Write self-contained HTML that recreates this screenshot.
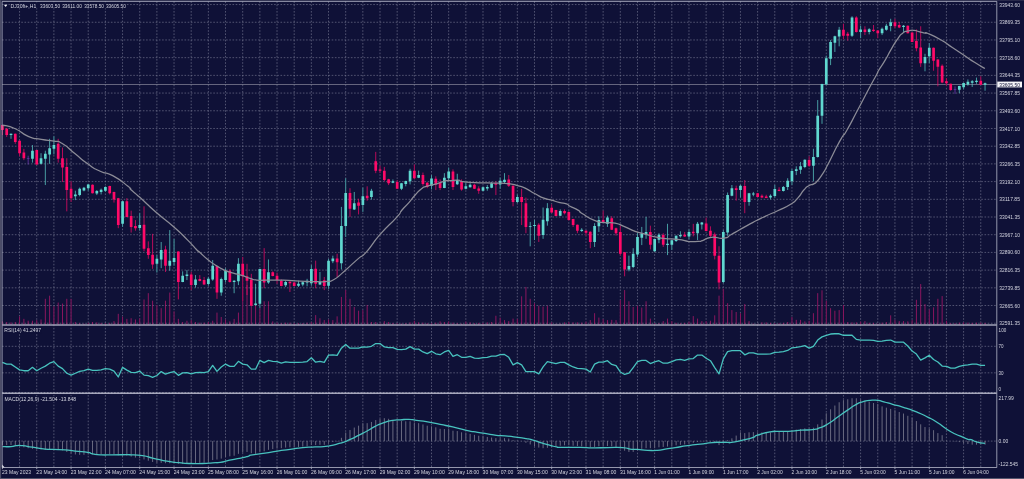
<!DOCTYPE html>
<html><head><meta charset="utf-8"><title>DJ30ft+ H1</title>
<style>html,body{margin:0;padding:0;background:#0f1137;overflow:hidden}svg{display:block}</style></head>
<body>
<svg width="1024" height="479" viewBox="0 0 1024 479" font-family="'Liberation Sans', sans-serif">
<rect width="1024" height="479" fill="#0f1137"/>
<rect x="0" y="0" width="1.1" height="479" fill="#4c4d68"/>
<rect x="0" y="0" width="1024" height="0.6" fill="#3a3b58"/>
<rect x="0" y="478" width="1024" height="1" fill="#55566e"/>
<path d="M19.56 1.4V467.5M36.73 1.4V467.5M53.89 1.4V467.5M71.06 1.4V467.5M88.22 1.4V467.5M105.38 1.4V467.5M122.55 1.4V467.5M139.71 1.4V467.5M156.88 1.4V467.5M174.04 1.4V467.5M191.2 1.4V467.5M208.37 1.4V467.5M225.53 1.4V467.5M242.7 1.4V467.5M259.86 1.4V467.5M277.02 1.4V467.5M294.19 1.4V467.5M311.35 1.4V467.5M328.52 1.4V467.5M345.68 1.4V467.5M362.84 1.4V467.5M380.01 1.4V467.5M397.17 1.4V467.5M414.34 1.4V467.5M431.5 1.4V467.5M448.66 1.4V467.5M465.83 1.4V467.5M482.99 1.4V467.5M500.16 1.4V467.5M517.32 1.4V467.5M534.48 1.4V467.5M551.65 1.4V467.5M568.81 1.4V467.5M585.98 1.4V467.5M603.14 1.4V467.5M620.3 1.4V467.5M637.47 1.4V467.5M654.63 1.4V467.5M671.8 1.4V467.5M688.96 1.4V467.5M706.12 1.4V467.5M723.29 1.4V467.5M740.45 1.4V467.5M757.62 1.4V467.5M774.78 1.4V467.5M791.94 1.4V467.5M809.11 1.4V467.5M826.27 1.4V467.5M843.44 1.4V467.5M860.6 1.4V467.5M877.76 1.4V467.5M894.93 1.4V467.5M912.09 1.4V467.5M929.26 1.4V467.5M946.42 1.4V467.5M963.58 1.4V467.5M980.75 1.4V467.5" stroke="#7f819a" stroke-width="0.6" stroke-dasharray="1.6 1.6" fill="none"/>
<path d="M2.1 4.55H996.8M2.1 22.25H996.8M2.1 39.96H996.8M2.1 57.66H996.8M2.1 75.37H996.8M2.1 93.07H996.8M2.1 110.78H996.8M2.1 128.48H996.8M2.1 146.19H996.8M2.1 163.89H996.8M2.1 181.6H996.8M2.1 199.31H996.8M2.1 217.01H996.8M2.1 234.71H996.8M2.1 252.42H996.8M2.1 270.12H996.8M2.1 287.83H996.8M2.1 305.53H996.8M2.1 323.24H996.8M2.1 346.3H996.8M2.1 372.85H996.8M2.1 441.1H996.8" stroke="#7f819a" stroke-width="0.6" stroke-dasharray="1.6 1.6" fill="none"/>
<path d="M2.42 321.35V325.0M19.58 316.34V325.0M36.75 320.1V325.0M53.91 306.32V325.0M71.08 298.81V325.0M88.24 322.86V325.0M105.4 323.23V325.0M122.57 316.59V325.0M139.73 318.22V325.0M156.9 305.07V325.0M174.06 311.33V325.0M191.22 320.1V325.0M208.39 321.98V325.0M225.55 319.47V325.0M242.72 288.79V325.0M259.88 307.58V325.0M277.04 322.61V325.0M294.21 323.23V325.0M311.37 321.98V325.0M328.54 319.47V325.0M345.7 290.04V325.0M362.86 310.08V325.0M380.03 323.23V325.0M397.19 323.23V325.0M414.36 320.73V325.0M431.52 323.23V325.0M448.68 321.35V325.0M465.85 321.6V325.0M483.01 322.86V325.0M500.18 317.6V325.0M517.34 318.85V325.0M534.5 303.19V325.0M551.67 322.35V325.0M568.83 321.98V325.0M586 321.6V325.0M603.16 319.1V325.0M620.32 300.06V325.0M637.49 305.7V325.0M654.65 323.23V325.0M671.82 321.1V325.0M688.98 321.6V325.0M706.14 321.1V325.0M723.31 288.79V325.0M740.47 313.21V325.0M757.64 323.86V325.0M774.8 323.23V325.0M791.96 316.97V325.0M809.13 320.73V325.0M826.29 300.69V325.0M843.46 305.07V325.0M860.62 321.6V325.0M877.78 323.61V325.0M894.95 319.85V325.0M912.11 320.1V325.0M929.28 309.45V325.0M946.44 320.73V325.0M963.6 322.35V325.0M980.77 322.61V325.0" stroke="#0f1137" stroke-width="1.3" fill="none"/>
<path d="M2.42 321.35V325.0M6.71 321.98V325.0M11 322.35V325.0M15.29 321.98V325.0M19.58 316.34V325.0M23.88 318.85V325.0M28.17 320.73V325.0M32.46 320.73V325.0M36.75 320.1V325.0M41.04 319.47V325.0M45.33 298.81V325.0M49.62 295.68V325.0M53.91 306.32V325.0M58.2 302.57V325.0M62.49 303.57V325.0M66.79 298.81V325.0M71.08 298.81V325.0M75.37 321.98V325.0M79.66 323.23V325.0M83.95 323.61V325.0M88.24 322.86V325.0M92.53 321.98V325.0M96.82 322.35V325.0M101.11 322.86V325.0M105.4 323.23V325.0M109.7 322.86V325.0M113.99 321.1V325.0M118.28 313.84V325.0M122.57 316.59V325.0M126.86 318.85V325.0M131.15 318.22V325.0M135.44 319.47V325.0M139.73 318.22V325.0M144.02 299.43V325.0M148.31 293.17V325.0M152.6 300.69V325.0M156.9 305.07V325.0M161.19 308.2V325.0M165.48 300.69V325.0M169.77 292.55V325.0M174.06 311.33V325.0M178.35 318.85V325.0M182.64 321.98V325.0M186.93 320.73V325.0M191.22 320.1V325.0M195.52 321.98V325.0M199.81 322.61V325.0M204.1 322.61V325.0M208.39 321.98V325.0M212.68 320.73V325.0M216.97 312.59V325.0M221.26 316.97V325.0M225.55 319.47V325.0M229.84 321.35V325.0M234.13 318.85V325.0M238.43 312.59V325.0M242.72 288.79V325.0M247.01 285.03V325.0M251.3 295.05V325.0M255.59 303.82V325.0M259.88 307.58V325.0M264.17 301.31V325.0M268.46 301.31V325.0M272.75 321.35V325.0M277.04 322.61V325.0M281.34 323.23V325.0M285.63 322.61V325.0M289.92 322.61V325.0M294.21 323.23V325.0M298.5 323.23V325.0M302.79 323.23V325.0M307.08 322.61V325.0M311.37 321.98V325.0M315.66 315.09V325.0M319.95 318.22V325.0M324.25 320.1V325.0M328.54 319.47V325.0M332.83 320.1V325.0M337.12 316.34V325.0M341.41 296.93V325.0M345.7 290.04V325.0M349.99 298.81V325.0M354.28 306.95V325.0M358.57 310.71V325.0M362.86 310.08V325.0M367.16 305.07V325.0M371.45 321.98V325.0M375.74 321.98V325.0M380.03 323.23V325.0M384.32 321.1V325.0M388.61 321.98V325.0M392.9 322.86V325.0M397.19 323.23V325.0M401.48 323.61V325.0M405.77 323.23V325.0M410.07 322.35V325.0M414.36 320.73V325.0M418.65 322.35V325.0M422.94 322.61V325.0M427.23 323.23V325.0M431.52 323.23V325.0M435.81 322.61V325.0M440.1 321.35V325.0M444.39 321.98V325.0M448.68 321.35V325.0M452.98 322.61V325.0M457.27 323.23V325.0M461.56 323.61V325.0M465.85 321.6V325.0M470.14 322.35V325.0M474.43 323.23V325.0M478.72 322.86V325.0M483.01 322.86V325.0M487.3 322.35V325.0M491.59 321.98V325.0M495.89 315.72V325.0M500.18 317.6V325.0M504.47 320.1V325.0M508.76 321.1V325.0M513.05 318.6V325.0M517.34 318.85V325.0M521.63 296.3V325.0M525.92 286.91V325.0M530.21 298.81V325.0M534.5 303.19V325.0M538.79 305.7V325.0M543.09 306.57V325.0M547.38 305.7V325.0M551.67 322.35V325.0M555.96 323.86V325.0M560.25 323.61V325.0M564.54 322.35V325.0M568.83 321.98V325.0M573.12 322.35V325.0M577.41 322.35V325.0M581.71 322.61V325.0M586 321.6V325.0M590.29 320.1V325.0M594.58 313.21V325.0M598.87 317.6V325.0M603.16 319.1V325.0M607.45 320.1V325.0M611.74 319.85V325.0M616.03 320.1V325.0M620.32 300.06V325.0M624.62 290.04V325.0M628.91 301.31V325.0M633.2 306.95V325.0M637.49 305.7V325.0M641.78 307.58V325.0M646.07 301.31V325.0M650.36 318.6V325.0M654.65 323.23V325.0M658.94 323.23V325.0M663.23 321.1V325.0M667.52 318.6V325.0M671.82 321.1V325.0M676.11 322.86V325.0M680.4 323.23V325.0M684.69 322.86V325.0M688.98 321.6V325.0M693.27 316.09V325.0M697.56 318.6V325.0M701.85 321.1V325.0M706.14 321.1V325.0M710.44 320.73V325.0M714.73 315.34V325.0M719.02 295.68V325.0M723.31 288.79V325.0M727.6 303.19V325.0M731.89 310.08V325.0M736.18 311.96V325.0M740.47 313.21V325.0M744.76 304.07V325.0M749.05 321.1V325.0M753.35 323.61V325.0M757.64 323.86V325.0M761.93 322.35V325.0M766.22 322.35V325.0M770.51 322.86V325.0M774.8 323.23V325.0M779.09 323.23V325.0M783.38 322.86V325.0M787.67 321.98V325.0M791.96 316.97V325.0M796.25 319.85V325.0M800.55 319.85V325.0M804.84 321.35V325.0M809.13 320.73V325.0M813.42 313.21V325.0M817.71 293.17V325.0M822 290.29V325.0M826.29 300.69V325.0M830.58 308.2V325.0M834.87 310.71V325.0M839.17 310.08V325.0M843.46 305.07V325.0M847.75 321.98V325.0M852.04 322.35V325.0M856.33 322.35V325.0M860.62 321.6V325.0M864.91 321.1V325.0M869.2 322.86V325.0M873.49 322.86V325.0M877.78 323.61V325.0M882.08 322.61V325.0M886.37 321.98V325.0M890.66 315.34V325.0M894.95 319.85V325.0M899.24 321.1V325.0M903.53 321.1V325.0M907.82 321.35V325.0M912.11 320.1V325.0M916.4 299.81V325.0M920.69 284.03V325.0M924.99 304.07V325.0M929.28 309.45V325.0M933.57 307.32V325.0M937.86 298.81V325.0M942.15 296.05V325.0M946.44 320.73V325.0M950.73 323.23V325.0M955.02 323.23V325.0M959.31 322.61V325.0M963.6 322.35V325.0M967.9 322.61V325.0M972.19 322.86V325.0M976.48 322.61V325.0M980.77 322.61V325.0M985.06 322.86V325.0" stroke="#c01970" stroke-width="0.7" fill="none"/>
<path d="M2.1 84.5H996.8" stroke="#a0a0ae" stroke-width="0.6" fill="none"/>
<path d="M2.42 124.78V135.05M19.58 140.06V156.34M36.75 149.83V164.73M53.91 136.3V154.46M71.08 181.29V201.96M88.24 183.8V190.69M105.4 186.3V191.94M122.57 201.02V226.95M139.73 213.17V230.71M156.9 255.03V272.57M174.06 238.85V265.68M191.22 271.94V290.1M208.39 276.95V285.72M225.55 268.18V282.59M242.72 256.91V301.31M259.88 268.81V308.2M277.04 272.57V283.84M294.21 281.96V286.34M311.37 265.05V285.72M328.54 258.79V288.85M345.7 178.18V236.96M362.86 187.58V211.91M380.03 165.66V173.17M397.19 180.06V189.08M414.36 164.4V179.43M431.52 175.05V189.45M448.68 167.54V180.69M465.85 182.55V189.43M483.01 186.3V191.31M500.18 177.54V188.81M517.34 194.44V203.21M534.5 220.04V240.08M551.67 204.38V213.15M568.83 211.27V220.67M586 230.05V235.69M603.16 210.64V222.54M620.32 225.67V255.73M637.49 233.18V256.98M654.65 238.82V251.97M671.82 240.07V250.09M688.98 229.42V239.44M706.14 217.58V231.35M723.31 230V283.23M740.47 184.76V197.54M757.64 192.9V197.16M774.8 185.01V197.54M791.96 168.83V185.11M809.13 156.3V166.95M826.29 55.72V84.64M843.46 23.78V39.43M860.62 25.66V38.18M877.78 30.04V38.18M894.95 18.77V28.16M912.11 32.29V42.19M929.28 43.13V63.17M946.44 78.2V85.72M963.6 82.59V89.47M980.77 76.32V85.09" stroke="#0f1137" stroke-width="1.3" fill="none"/>
<path d="M11 133.55V138.81M32.46 145.07V162.61M41.04 153.21V164.48M45.33 150.71V185.05M49.62 138.81V163.86M53.91 136.3V154.46M75.37 190.69V200.08M79.66 187.56V196.32M83.95 186.93V191.31M88.24 183.8V190.69M96.82 190.06V195.07M101.11 188.56V194.44M105.4 186.3V191.94M122.57 201.02V226.95M139.73 213.17V230.71M156.9 255.03V272.57M161.19 241.98V268.18M169.77 230.08V270.69M174.06 238.85V265.68M182.64 271.31V282.21M186.93 270.06V280.08M195.52 275.07V287.6M208.39 276.95V285.72M212.68 260.04V280.71M221.26 277.58V295.74M225.55 268.18V282.59M234.13 280.08V293.23M238.43 258.16V285.09M255.59 283.78V305.7M259.88 268.81V308.2M268.46 259.41V283.84M285.63 280.71V286.97M298.5 280.71V286.97M302.79 281.33V286.34M307.08 278.83V286.34M311.37 265.05V285.72M319.95 271.94V285.09M328.54 258.79V288.85M332.83 255.66V263.17M341.41 206.9V269.43M345.7 178.18V236.96M354.28 191.96V210.03M362.86 187.58V211.91M371.45 188.83V199.47M392.9 179.43V183.19M401.48 182.94V190.08M405.77 180.69V186.32M410.07 168.79V184.44M418.65 170.67V178.18M431.52 175.05V189.45M444.39 173.17V188.2M448.68 167.54V180.69M457.27 173.78V185.05M465.85 182.55V189.43M470.14 183.17V187.56M483.01 186.3V191.31M487.3 185.05V190.69M491.59 181.92V188.18M500.18 177.54V188.81M504.47 173.15V183.17M517.34 194.44V203.21M530.21 221.92V246.34M534.5 220.04V240.08M543.09 207.52V238.83M547.38 203.13V225.68M560.25 209.39V216.03M581.71 228.17V231.93M594.58 223.16V246.96M598.87 216.27V231.93M607.45 215.65V226.92M628.91 255.64V271.29M633.2 248.21V268.16M637.49 233.18V256.98M641.78 226.92V245.08M646.07 216.9V238.82M654.65 238.82V251.97M658.94 233.18V243.2M667.52 223.79V255.1M671.82 240.07V250.09M676.11 235.44V241.95M680.4 231.3V237.57M688.98 229.42V239.44M697.56 221.96V239.99M701.85 221.96V229.47M723.31 230V283.23M727.6 192.53V235.74M731.89 185.01V196.28M740.47 184.76V197.54M749.05 192.9V205.68M753.35 191.9V196.28M770.51 194.4V199.41M774.8 185.01V197.54M783.38 186.01V191.52M787.67 178.22V189.99M791.96 168.83V185.11M796.25 166.32V175.09M800.55 161.94V173.84M804.84 159.43V168.2M813.42 148.79V181.35M817.71 100.05V157.56M822 83.77V123.85M826.29 55.72V84.64M830.58 40.06V65.11M834.87 35.68V51.96M839.17 26.91V46.32M852.04 16.26V36.93M860.62 25.66V38.18M869.2 28.16V34.42M882.08 27.54V35.05M886.37 23.78V30.67M890.66 18.77V31.29M903.53 25.03V31.92M924.99 53.78V71.31M929.28 43.13V63.17M959.31 85.72V93.23M963.6 82.59V89.47M967.9 79.45V85.72M972.19 80.08V86.97M976.48 77.58V83.84M985.06 82.59V90.73" stroke="#60d8d0" stroke-width="0.7" fill="none"/>
<path d="M2.42 124.78V135.05M6.71 128.16V136.93M15.29 133.55V143.82M19.58 140.06V156.34M23.88 148.83V160.1M36.75 149.83V164.73M58.2 138.81V162.61M62.49 147.58V181.92M66.79 158.22V211.35M71.08 181.29V201.96M92.53 184.42V193.44M109.7 185.68V194.44M113.99 191.69V202.59M118.28 197.89V228.2M126.86 198.14V217.18M131.15 210.67V232.59M135.44 220.06V230.71M144.02 206.28V251.27M148.31 241.35V258.79M152.6 233.84V268.81M165.48 245.74V271.94M178.35 251.27V299.43M191.22 271.94V290.1M199.81 275.07V281.33M204.1 276.95V284.71M216.97 266.05V298.87M229.84 269.43V282.59M242.72 256.91V301.31M247.01 263.8V295.05M251.3 273.82V305.95M264.17 248.14V288.22M272.75 271.31V276.32M277.04 272.57V283.84M281.34 279.45V286.34M289.92 281.33V291.98M294.21 281.96V286.34M315.66 260.67V288.22M324.25 276.95V290.1M337.12 253.78V276.95M349.99 188.2V216.92M358.57 198.76V214.41M367.16 186.32V200.73M375.74 151.88V173.17M380.03 165.66V173.17M384.32 166.91V181.31M388.61 178.81V185.07M397.19 180.06V189.08M414.36 164.4V179.43M422.94 172.55V185.7M427.23 181.94V188.2M435.81 176.3V190.08M440.1 179.43V190.08M452.98 169.39V190.06M461.56 179.41V190.69M474.43 183.8V189.06M478.72 186.3V193.82M495.89 181.29V195.07M508.76 175.03V186.93M513.05 185.43V206.34M521.63 188.81V225.05M525.92 197.58V233.19M538.79 223.17V241.96M551.67 204.38V213.15M555.96 209.77V216.28M564.54 209.39V214.4M568.83 211.27V220.67M573.12 218.79V226.93M577.41 224.55V233.19M586 230.05V235.69M590.29 231.3V248.21M603.16 210.64V222.54M611.74 216.27V230.05M616.03 227.55V235.69M620.32 225.67V255.73M624.62 252.09V276.3M650.36 225.67V249.46M663.23 233.18V246.96M684.69 231.93V236.94M693.27 223.84V236.36M706.14 217.58V231.35M710.44 226.34V236.99M714.73 232.51V259.43M719.02 246.28V289.41M736.18 185.64V200.67M744.76 180V213.19M757.64 192.9V197.16M761.93 194.4V198.16M766.22 194.78V198.16M779.09 187.26V191.27M809.13 156.3V166.95M843.46 23.78V39.43M847.75 31.92V40.69M856.33 16.26V32.55M864.91 26.28V35.05M873.49 25.03V31.92M877.78 30.04V38.18M894.95 18.77V28.16M899.24 21.9V28.16M907.82 25.41V33.42M912.11 32.29V42.19M916.4 29.41V51.27M920.69 26.28V66.93M933.57 47.52V70.69M937.86 59.16V86.34M942.15 64.42V83.21M946.44 78.2V85.72M950.73 83.59V90.73M980.77 76.32V85.09" stroke="#ff0a68" stroke-width="0.7" fill="none"/>
<path d="M28.17 155.72V164.48M955.02 86.34V93.86" stroke="#7a3fc0" stroke-width="0.7" fill="none"/>
<path d="M9.65 133.8h2.7V135.05h-2.7zM31.11 150.71h2.7V158.85h-2.7zM39.69 158.22h2.7V163.86h-2.7zM43.98 153.84h2.7V158.85h-2.7zM48.27 148.2h2.7V154.46h-2.7zM52.56 145.07h2.7V148.83h-2.7zM74.02 194.44h2.7V196.32h-2.7zM78.31 188.81h2.7V195.07h-2.7zM82.6 187.81h2.7V190.44h-2.7zM86.89 184.42h2.7V188.18h-2.7zM95.47 191.06h2.7V193.57h-2.7zM99.76 189.68h2.7V191.94h-2.7zM104.05 186.93h2.7V190.69h-2.7zM121.22 201.27h2.7V223.82h-2.7zM138.38 225.07h2.7V227.95h-2.7zM155.55 258.79h2.7V263.8h-2.7zM159.84 250.02h2.7V259.41h-2.7zM168.42 260.67h2.7V265.68h-2.7zM172.71 257.91h2.7V261.92h-2.7zM181.29 275.7h2.7V281.96h-2.7zM185.58 274.44h2.7V275.95h-2.7zM194.17 279.45h2.7V285.09h-2.7zM207.04 278.83h2.7V284.09h-2.7zM211.33 265.68h2.7V279.45h-2.7zM219.91 279.08h2.7V292.61h-2.7zM224.2 270.69h2.7V280.08h-2.7zM232.78 280.71h2.7V281.96h-2.7zM237.08 263.8h2.7V281.33h-2.7zM254.24 303.57h2.7V305.07h-2.7zM258.53 269.06h2.7V303.82h-2.7zM267.11 272.31h2.7V282.59h-2.7zM284.28 281.96h2.7V285.34h-2.7zM297.15 283.84h2.7V285.72h-2.7zM301.44 282.33h2.7V284.46h-2.7zM305.73 280.71h2.7V282.59h-2.7zM310.02 269.06h2.7V283.21h-2.7zM318.6 281.96h2.7V284.46h-2.7zM327.19 260.67h2.7V285.72h-2.7zM331.48 258.54h2.7V261.29h-2.7zM340.06 226.06h2.7V263.17h-2.7zM344.35 192.96h2.7V226.06h-2.7zM352.93 203.14h2.7V209.4h-2.7zM361.51 196.25h2.7V205.02h-2.7zM370.1 190.71h2.7V196.97h-2.7zM391.55 181.31h2.7V182.82h-2.7zM400.13 183.19h2.7V188.83h-2.7zM404.42 181.06h2.7V184.07h-2.7zM408.72 170.67h2.7V181.31h-2.7zM417.3 175.05h2.7V177.81h-2.7zM430.17 178.56h2.7V185.7h-2.7zM443.04 177.81h2.7V187.95h-2.7zM447.33 171.54h2.7V178.18h-2.7zM455.92 180.04h2.7V184.17h-2.7zM464.5 186.3h2.7V188.81h-2.7zM468.79 184.8h2.7V187.3h-2.7zM481.66 187.3h2.7V190.69h-2.7zM485.95 186.93h2.7V188.56h-2.7zM490.24 183.17h2.7V187.81h-2.7zM498.83 180.67h2.7V184.42h-2.7zM503.12 179.79h2.7V181.92h-2.7zM515.99 196.95h2.7V201.96h-2.7zM528.86 225.93h2.7V226.68h-2.7zM533.15 225.05h2.7V225.93h-2.7zM541.74 219.79h2.7V235.07h-2.7zM546.03 208.14h2.7V221.29h-2.7zM558.9 211.02h2.7V215.66h-2.7zM580.36 229.67h2.7V230.93h-2.7zM593.23 226.04h2.7V241.95h-2.7zM597.52 220.03h2.7V226.29h-2.7zM606.1 217.53h2.7V223.79h-2.7zM627.56 266.03h2.7V269.41h-2.7zM631.85 253.76h2.7V266.91h-2.7zM636.14 236.94h2.7V254.47h-2.7zM640.43 233.18h2.7V237.82h-2.7zM644.72 231.93h2.7V234.43h-2.7zM653.3 239.07h2.7V251.34h-2.7zM657.59 234.68h2.7V239.82h-2.7zM666.17 243.83h2.7V245.08h-2.7zM670.47 240.32h2.7V244.83h-2.7zM674.76 235.69h2.7V240.95h-2.7zM679.05 235.06h2.7V236.31h-2.7zM687.63 231.93h2.7V236.56h-2.7zM696.21 223.84h2.7V233.23h-2.7zM700.5 222.59h2.7V224.46h-2.7zM721.96 231.88h2.7V281.98h-2.7zM726.25 195.03h2.7V232.61h-2.7zM730.54 188.14h2.7V195.66h-2.7zM739.12 185.64h2.7V190.02h-2.7zM747.7 193.15h2.7V201.92h-2.7zM752 193.53h2.7V194.53h-2.7zM769.16 195.66h2.7V197.54h-2.7zM773.45 189.02h2.7V196.03h-2.7zM782.03 186.89h2.7V191.02h-2.7zM786.32 180.73h2.7V186.99h-2.7zM790.61 171.08h2.7V181.35h-2.7zM794.9 169.2h2.7V170.96h-2.7zM799.2 166.32h2.7V169.7h-2.7zM803.49 159.81h2.7V166.95h-2.7zM812.07 156.93h2.7V165.7h-2.7zM816.36 115.71h2.7V156.93h-2.7zM820.65 84.02h2.7V115.71h-2.7zM824.94 58.22h2.7V84.39h-2.7zM829.23 41.94h2.7V58.85h-2.7zM833.52 36.3h2.7V42.82h-2.7zM837.82 29.79h2.7V36.55h-2.7zM850.69 17.52h2.7V35.68h-2.7zM859.27 29.41h2.7V31.92h-2.7zM867.85 29.16h2.7V31.92h-2.7zM880.73 28.79h2.7V33.17h-2.7zM885.02 25.66h2.7V29.79h-2.7zM889.31 22.27h2.7V26.03h-2.7zM902.18 25.66h2.7V26.91h-2.7zM923.63 56.91h2.7V63.17h-2.7zM927.93 47.77h2.7V56.28h-2.7zM957.96 86.09h2.7V89.85h-2.7zM962.25 82.96h2.7V87.34h-2.7zM966.55 81.71h2.7V84.46h-2.7zM970.84 81.33h2.7V82.84h-2.7zM975.13 80.71h2.7V81.96h-2.7zM983.71 83.21h2.7V84.84h-2.7z" fill="#60d8d0"/>
<path d="M1.07 125.03h2.7V130.04h-2.7zM5.36 128.79h2.7V135.05h-2.7zM13.94 133.8h2.7V141.94h-2.7zM18.23 140.69h2.7V153.21h-2.7zM22.52 152.59h2.7V158.22h-2.7zM35.4 150.08h2.7V164.48h-2.7zM56.85 143.82h2.7V158.85h-2.7zM61.14 158.22h2.7V167.52h-2.7zM65.44 166.89h2.7V190.06h-2.7zM69.73 188.81h2.7V198.2h-2.7zM91.18 184.67h2.7V193.19h-2.7zM108.35 185.93h2.7V193.19h-2.7zM112.64 191.94h2.7V199.45h-2.7zM116.93 198.14h2.7V225.07h-2.7zM125.51 201.27h2.7V216.93h-2.7zM129.8 216.05h2.7V226.95h-2.7zM134.09 226.07h2.7V228.2h-2.7zM142.67 224.82h2.7V248.77h-2.7zM146.96 248.14h2.7V255.03h-2.7zM151.25 254.78h2.7V264.42h-2.7zM164.13 249.39h2.7V265.68h-2.7zM177 251.52h2.7V281.96h-2.7zM189.87 274.44h2.7V285.09h-2.7zM198.46 279.08h2.7V281.08h-2.7zM202.75 280.08h2.7V284.46h-2.7zM215.62 266.3h2.7V292.61h-2.7zM228.49 270.69h2.7V281.96h-2.7zM241.37 263.8h2.7V276.32h-2.7zM245.66 276.32h2.7V280.71h-2.7zM249.95 279.45h2.7V305.7h-2.7zM262.82 269.06h2.7V282.59h-2.7zM271.4 272.19h2.7V275.95h-2.7zM275.69 275.7h2.7V280.08h-2.7zM279.99 280.71h2.7V286.09h-2.7zM288.57 281.71h2.7V283.21h-2.7zM292.86 282.59h2.7V286.09h-2.7zM314.31 268.81h2.7V283.84h-2.7zM322.9 280.33h2.7V286.09h-2.7zM335.77 258.54h2.7V262.29h-2.7zM348.64 192.96h2.7V208.78h-2.7zM357.22 202.52h2.7V205.65h-2.7zM365.81 195.72h2.7V198.22h-2.7zM374.39 161.27h2.7V170.67h-2.7zM378.68 169.41h2.7V170.67h-2.7zM382.97 170.67h2.7V180.06h-2.7zM387.26 179.18h2.7V183.19h-2.7zM395.84 181.94h2.7V188.83h-2.7zM413.01 170.67h2.7V178.18h-2.7zM421.59 175.05h2.7V184.07h-2.7zM425.88 182.82h2.7V186.95h-2.7zM434.46 178.81h2.7V184.44h-2.7zM438.75 182.82h2.7V187.95h-2.7zM451.63 171.52h2.7V186.93h-2.7zM460.21 181.29h2.7V189.43h-2.7zM473.08 184.8h2.7V188.81h-2.7zM477.37 188.56h2.7V190.69h-2.7zM494.54 183.17h2.7V184.8h-2.7zM507.41 179.41h2.7V185.68h-2.7zM511.7 185.68h2.7V201.96h-2.7zM520.28 196.95h2.7V201.96h-2.7zM524.57 203.13h2.7V226.93h-2.7zM537.44 224.8h2.7V235.7h-2.7zM550.32 207.77h2.7V212.53h-2.7zM554.61 210.02h2.7V215.91h-2.7zM563.19 211.02h2.7V213.15h-2.7zM567.48 211.9h2.7V220.04h-2.7zM571.77 219.04h2.7V225.05h-2.7zM576.06 224.8h2.7V230.69h-2.7zM584.65 230.68h2.7V232.81h-2.7zM588.94 231.68h2.7V241.95h-2.7zM601.81 220.03h2.7V221.91h-2.7zM610.39 218.15h2.7V229.67h-2.7zM614.68 228.17h2.7V233.18h-2.7zM618.97 231.93h2.7V253.85h-2.7zM623.26 252.25h2.7V269.41h-2.7zM649.01 231.93h2.7V244.83h-2.7zM661.88 235.06h2.7V244.83h-2.7zM683.34 234.81h2.7V236.56h-2.7zM691.92 231.73h2.7V233.23h-2.7zM704.79 223.59h2.7V231.1h-2.7zM709.09 230.73h2.7V235.74h-2.7zM713.38 234.38h2.7V255.68h-2.7zM717.67 255.68h2.7V282.61h-2.7zM734.83 188.14h2.7V190.02h-2.7zM743.41 186.01h2.7V201.92h-2.7zM756.29 193.15h2.7V196.91h-2.7zM760.58 195.66h2.7V197.54h-2.7zM764.87 196.53h2.7V197.91h-2.7zM777.74 189.77h2.7V191.02h-2.7zM807.78 160.06h2.7V165.7h-2.7zM842.11 29.79h2.7V35.68h-2.7zM846.4 33.8h2.7V35.68h-2.7zM854.98 17.52h2.7V31.92h-2.7zM863.56 29.41h2.7V31.92h-2.7zM872.14 29.79h2.7V31.04h-2.7zM876.43 30.42h2.7V33.17h-2.7zM893.6 22.27h2.7V26.28h-2.7zM897.89 25.03h2.7V27.54h-2.7zM906.47 25.66h2.7V33.17h-2.7zM910.76 32.55h2.7V41.94h-2.7zM915.05 41.06h2.7V48.14h-2.7zM919.34 47.58h2.7V63.17h-2.7zM932.22 47.77h2.7V60.67h-2.7zM936.51 59.41h2.7V66.68h-2.7zM940.8 65.68h2.7V82.59h-2.7zM945.09 81.33h2.7V83.21h-2.7zM949.38 83.84h2.7V90.1h-2.7zM979.42 80.71h2.7V84.84h-2.7z" fill="#ff0a68"/>
<path d="M26.82 157.97h2.7V158.57h-2.7zM953.67 89.22h2.7V89.82h-2.7z" fill="#7a3fc0"/>
<path d="M2.51 125.03C6.76 126.28 6.72 125.03 15.28 128.79C23.84 132.55 19.5 132.75 28.18 136.3C36.87 139.85 32.77 137.85 41.33 139.43C49.89 141.02 46.76 139.6 53.86 141.06C60.96 142.52 55.53 139.56 62.63 143.82C69.72 148.08 66.8 147.16 75.15 153.84C83.5 160.52 79.33 158.05 87.68 163.86C96.03 169.67 91.85 167.34 100.2 171.27C108.55 175.21 103.46 170.65 112.73 175.66C121.99 180.67 121.81 181.52 128.01 186.3C134.2 191.08 127.29 186.26 131.31 190C135.34 193.74 131.73 190 140.08 197.52C148.43 205.03 145.09 202.73 156.36 212.55C167.64 222.36 163.46 217.76 173.9 226.95C184.34 236.13 180.16 232.59 187.68 240.1C195.19 247.62 192.33 245.36 196.44 249.49C200.55 253.63 196.03 249 200 252.5C203.97 256.01 202.78 255.56 208.35 260.02C213.91 264.47 211.13 262.41 216.69 265.86C222.26 269.31 219.48 267.97 225.04 270.37C230.61 272.76 227.82 271.37 233.39 273.04C238.95 274.71 236.17 273.59 241.74 275.38C247.3 277.16 245.08 276.82 250.08 278.38C255.09 279.94 251.2 279.44 256.76 280.05C262.33 280.66 257.87 280.16 266.78 280.22C275.68 280.27 272.34 279.88 283.47 280.22C294.6 280.55 289.04 280.72 300.17 281.22C311.3 281.72 307.96 281.66 316.86 281.72C325.77 281.78 321.31 282.05 326.88 281.39C332.44 280.72 328.55 282.39 333.56 279.72C338.56 277.05 336.34 277.99 341.9 273.37C347.47 268.75 344.69 270.87 350.25 265.86C355.82 260.85 353.03 263.19 358.6 258.35C364.16 253.51 359.78 259.3 366.94 251.34C374.11 243.37 370.29 245.72 380.1 234.45C389.91 223.19 389.08 225.7 396.38 217.55C403.69 209.39 397.84 214.97 402.02 209.99C406.19 205.02 404.52 207.6 408.91 202.61C413.29 197.61 411 199.59 415.17 195C419.35 190.41 417.68 191.72 421.43 188.83C425.19 185.94 421.43 187.99 426.44 186.32C431.45 184.65 429.78 185.7 436.46 183.82C443.14 181.94 441.97 181.74 446.48 180.69C451 179.64 446.16 180.88 450 180.67C453.84 180.46 453.83 179.77 458.01 180.06C462.18 180.35 456.84 180.71 462.53 181.54C468.21 182.37 466.7 182.09 475.05 182.55C483.4 183 479.23 182.71 487.58 182.92C495.93 183.13 492.59 182.88 500.1 183.17C507.62 183.46 504.28 182.96 510.12 183.8C515.97 184.63 512.63 184.22 517.64 185.68C522.65 187.14 519.31 185.47 525.15 188.18C531 190.9 528.91 190.48 535.17 193.82C541.43 197.16 538.51 196.11 543.94 198.2C549.37 200.29 546.44 198.7 551.45 200.08C556.46 201.46 553.96 201.08 558.97 202.33C563.98 203.59 562.81 202.53 566.48 203.84C570.16 205.14 566.16 204.16 570 206.25C573.84 208.34 573.83 207.6 578.01 210.1C582.18 212.61 576.84 210.25 582.53 213.77C588.21 217.29 587.54 217.73 595.05 220.66C602.57 223.58 598.39 221.7 605.07 222.54C611.75 223.37 608.41 221.7 615.09 223.16C621.77 224.62 618.43 224.21 625.11 226.92C631.79 229.63 628.45 228.92 635.13 231.3C641.81 233.68 638.47 232.18 645.15 234.06C651.83 235.94 648.49 235.44 655.17 236.94C661.85 238.44 657.68 237.73 665.19 238.57C672.71 239.4 670.2 238.53 677.72 239.44C685.23 240.36 683.64 240.63 687.74 241.32C691.83 242.02 686.58 241.52 690 241.52C693.42 241.52 693.83 241.61 698.01 241.32C702.18 241.03 698.1 242 702.53 240.65C706.95 239.29 704.2 238.1 711.29 237.26C718.39 236.43 717.14 239.07 723.82 238.14C730.5 237.21 725.91 237.37 731.33 234.48C736.76 231.59 733 233.44 740.1 229.47C747.2 225.51 744.28 226.97 752.63 222.59C760.98 218.2 756.8 220.29 765.15 216.32C773.5 212.36 769.33 214.65 777.68 210.69C786.03 206.72 783.52 208.6 790.2 204.42C796.88 200.25 793.18 202.97 797.72 198.16C802.25 193.35 800.11 194.14 803.82 189.99C807.52 185.85 805.49 187.78 808.83 185.74C812.17 183.69 810.92 185.53 813.84 183.86C816.76 182.19 814.67 184.07 817.6 180.73C820.52 177.39 819.27 179.06 822.61 173.84C825.95 168.62 824.28 171.33 827.62 165.07C830.96 158.81 829.29 161.73 832.63 155.05C835.97 148.37 834.3 151.29 837.64 145.03C840.98 138.77 839.51 141.27 842.65 136.26C845.78 131.25 842.02 138.73 847.03 130C852.04 121.27 849.95 124.65 857.68 110.07C865.4 95.49 863.94 97.96 870.2 86.27C876.46 74.58 873.56 80.43 876.46 75C879.37 69.57 876.01 74.96 878.91 69.99C881.81 65.03 881 67.16 885.17 60.1C889.35 53.04 887.26 55.93 891.43 48.83C895.61 41.73 893.94 44.03 897.7 38.81C901.45 33.59 899.37 35.76 902.71 33.17C906.05 30.58 903.96 32 907.72 31.04C911.47 30.08 910.22 30.12 913.98 30.29C917.74 30.46 915.23 30.58 918.99 31.54C922.75 32.5 922.24 32.5 925.25 33.17C928.26 33.84 922.73 31.27 928.01 33.55C933.29 35.82 932.97 35.34 941.09 40C949.21 44.66 944.85 42.51 952.36 47.52C959.88 52.53 956.12 50.02 963.64 55.03C971.15 60.04 967.81 58.04 974.91 62.55C982.01 67.05 981.59 66.55 984.93 68.56" stroke="#8c8c97" stroke-width="1.25" fill="none" stroke-linejoin="round"/>
<polyline points="2.42,362.33 6.71,364.09 11,364.09 15.29,366.97 19.58,369.85 23.88,370.73 28.17,370.73 32.46,367.34 36.75,370.73 41.04,368.22 45.33,366.09 49.62,363.21 53.91,361.58 58.2,366.09 62.49,368.6 66.79,373.23 71.08,375.11 75.37,373.23 79.66,371.35 83.95,370.73 88.24,369.1 92.53,370.35 96.82,370.35 101.11,369.85 105.4,368.6 109.7,369.1 113.99,371.1 118.28,376.99 122.57,367.33 126.86,370.09 131.15,372.34 135.44,372.6 139.73,371.09 144.02,375.1 148.31,375.73 152.6,377.35 156.9,375.48 161.19,371.59 165.48,374.1 169.77,372.6 174.06,371.59 178.35,375.35 182.64,372.85 186.93,372.6 191.22,373.85 195.52,372.6 199.81,372.34 204.1,372.6 208.39,371.59 212.68,365.33 216.97,371.34 221.26,366.96 225.55,364.08 229.84,366.33 234.13,366.33 238.43,361.32 242.72,364.08 247.01,364.83 251.3,369.09 255.59,369.21 259.88,360.32 264.17,362.58 268.46,360.45 272.75,361.32 277.04,361.57 281.34,363.2 285.63,361.95 289.92,362.32 294.21,362.32 298.5,362.32 302.79,362.2 307.08,361.57 311.37,357.82 315.66,362.2 319.95,361.32 324.25,362.32 328.54,355.06 332.83,354.81 337.12,355.44 341.41,348.17 345.7,344.41 349.99,348.17 354.28,348.17 358.57,348.17 362.86,346.92 367.16,347.17 371.45,346.29 375.74,343.54 380.03,343.54 384.32,346.92 388.61,347.55 392.9,347.55 397.19,349.42 401.48,349.67 405.77,349.17 410.07,346.67 414.36,349.17 418.65,349.17 422.94,351.93 427.23,353.56 431.52,351.3 435.81,353.81 440.1,354.68 444.39,351.93 448.68,350.43 452.98,356.31 457.27,354.68 461.56,357.31 465.85,357.31 470.14,356.31 474.43,358.19 478.72,358.44 483.01,357.57 487.3,357.31 491.59,356.06 495.89,356.06 500.18,354.68 504.47,354.43 508.76,357.31 513.05,364.83 517.34,362.58 521.63,364.83 525.92,371.59 530.21,371.59 534.5,371.59 538.79,373.85 543.09,366.96 547.38,361.7 551.67,362.58 555.96,363.58 560.25,362.32 564.54,362.32 568.83,364.83 573.12,366.96 577.41,368.46 581.71,368.59 586,369.09 590.29,371.97 594.58,364.08 598.87,362.2 603.16,362.2 607.45,360.7 611.74,364.45 616.03,365.71 620.32,371.97 624.62,374.47 628.91,373.22 633.2,367.59 637.49,361.7 641.78,360.45 646.07,360.45 650.36,363.58 654.65,361.95 658.94,360.7 663.23,363.2 667.52,363.2 671.82,361.57 676.11,359.82 680.4,359.44 684.69,360.45 688.98,358.82 693.27,358.57 697.56,355.06 701.85,355.06 706.14,358.19 710.44,360.7 714.73,367.59 719.02,373.85 723.31,358.82 727.6,351.55 731.89,350.68 736.18,350.68 740.47,350.68 744.76,354.81 749.05,352.81 753.35,352.81 757.64,354.06 761.93,354.06 766.22,354.06 770.51,353.81 774.8,352.3 779.09,352.18 783.38,351.55 787.67,350.43 791.96,347.8 796.25,347.29 800.55,346.67 804.84,345.67 809.13,348.17 813.42,346.29 817.71,340.03 822,336.9 826.29,335.27 830.58,334.02 834.87,333.77 839.17,333.77 843.46,335.27 847.75,335.27 852.04,335.27 856.33,339.4 860.62,340.03 864.91,340.03 869.2,340.03 873.49,340.28 877.78,341.28 882.08,341.03 886.37,340.28 890.66,340.03 894.95,342.16 899.24,342.16 903.53,342.16 907.82,346.04 912.11,351.05 916.4,354.06 920.69,360.07 924.99,357.82 929.28,355.31 933.57,359.44 937.86,361.95 942.15,366.08 946.44,366.33 950.73,368.21 955.02,368.21 959.31,366.33 963.6,365.33 967.9,364.83 972.19,364.2 976.48,364.08 980.77,365.33 985.06,365.33" stroke="#48c2be" stroke-width="1.3" fill="none" stroke-linejoin="round"/>
<path d="M2.42 441.1V445.07M19.58 441.1V446.32M36.75 441.1V449.08M53.91 441.1V448.58M71.08 441.1V453.59M88.24 441.1V454.46M105.4 441.1V454.21M122.57 441.1V455.72M139.73 441.1V458.22M156.9 441.1V462.61M174.06 441.1V463.23M191.22 441.1V463.61M208.39 441.1V461.98M225.55 441.1V457.34M242.72 441.1V452.59M259.88 441.1V451.96M277.04 441.1V448.58M294.21 441.1V446.95M311.37 441.1V445.07M328.54 441.1V442.82M345.7 441.1V432.55M362.86 441.1V423.18M380.03 441.1V418.8M397.19 441.1V420.68M414.36 441.1V422.56M431.52 441.1V426.31M448.68 441.1V428.82M465.85 441.1V432.58M483.01 441.1V435.68M500.18 441.1V438.18M517.34 441.1V440.69M534.5 441.1V446.32M551.67 441.1V446.95M568.83 441.1V445.32M586 441.1V446.57M603.16 441.1V446.07M620.32 441.1V448.58M637.49 441.1V450.08M654.65 441.1V448.2M671.82 441.1V446.07M688.98 441.1V443.57M706.14 441.1V441.31M723.31 441.1V442.1M740.47 441.1V432.33M757.64 441.1V432.33M774.8 441.1V431.83M791.96 441.1V430.2M809.13 441.1V428.32M826.29 441.1V413.29M843.46 441.1V400.14M860.62 441.1V399.26M877.78 441.1V403.9M894.95 441.1V410.16M912.11 441.1V417.68M929.28 441.1V428.32M946.44 441.1V440.22M963.6 441.1V443.1M980.77 441.1V444.68" stroke="#0f1137" stroke-width="1.3" fill="none"/>
<path d="M2.42 441.1V445.07M6.71 441.1V445.07M11 441.1V445.07M15.29 441.1V445.7M19.58 441.1V446.32M23.88 441.1V447.32M28.17 441.1V448.2M32.46 441.1V448.83M36.75 441.1V449.08M41.04 441.1V449.45M45.33 441.1V449.83M49.62 441.1V449.08M53.91 441.1V448.58M58.2 441.1V449.08M62.49 441.1V450.33M66.79 441.1V451.96M71.08 441.1V453.59M75.37 441.1V454.46M79.66 441.1V454.84M83.95 441.1V454.84M88.24 441.1V454.46M92.53 441.1V454.46M96.82 441.1V454.46M101.11 441.1V454.46M105.4 441.1V454.21M109.7 441.1V454.09M113.99 441.1V454.46M118.28 441.1V455.34M122.57 441.1V455.72M126.86 441.1V455.72M131.15 441.1V456.59M135.44 441.1V457.6M139.73 441.1V458.22M144.02 441.1V459.47M148.31 441.1V460.73M152.6 441.1V461.98M156.9 441.1V462.61M161.19 441.1V462.86M165.48 441.1V463.23M169.77 441.1V463.23M174.06 441.1V463.23M178.35 441.1V463.86M182.64 441.1V463.86M186.93 441.1V463.86M191.22 441.1V463.61M195.52 441.1V463.23M199.81 441.1V462.86M204.1 441.1V462.61M208.39 441.1V461.98M212.68 441.1V460.1M216.97 441.1V459.47M221.26 441.1V458.6M225.55 441.1V457.34M229.84 441.1V456.34M234.13 441.1V455.72M238.43 441.1V453.84M242.72 441.1V452.59M247.01 441.1V451.96M251.3 441.1V453.21M255.59 441.1V453.84M259.88 441.1V451.96M264.17 441.1V451.33M268.46 441.1V449.83M272.75 441.1V449.08M277.04 441.1V448.58M281.34 441.1V448.2M285.63 441.1V447.58M289.92 441.1V447.32M294.21 441.1V446.95M298.5 441.1V446.95M302.79 441.1V446.57M307.08 441.1V446.32M311.37 441.1V445.07M315.66 441.1V445.07M319.95 441.1V444.82M324.25 441.1V444.82M328.54 441.1V442.82M332.83 441.1V441.94M337.12 441.1V441.56M341.41 441.1V437.81M345.7 441.1V432.55M349.99 441.1V430.04M354.28 441.1V427.54M358.57 441.1V425.66M362.86 441.1V423.18M367.16 441.1V423.18M371.45 441.1V421.93M375.74 441.1V420.05M380.03 441.1V418.8M384.32 441.1V418.17M388.61 441.1V418.8M392.9 441.1V420.05M397.19 441.1V420.68M401.48 441.1V421.05M405.77 441.1V421.3M410.07 441.1V421.3M414.36 441.1V422.56M418.65 441.1V423.18M422.94 441.1V424.43M427.23 441.1V425.69M431.52 441.1V426.31M435.81 441.1V427.31M440.1 441.1V428.82M444.39 441.1V429.07M448.68 441.1V428.82M452.98 441.1V430.7M457.27 441.1V431.07M461.56 441.1V432.32M465.85 441.1V432.58M470.14 441.1V433.83M474.43 441.1V434.83M478.72 441.1V435.71M483.01 441.1V435.68M487.3 441.1V436.93M491.59 441.1V437.56M495.89 441.1V438.18M500.18 441.1V438.18M504.47 441.1V438.18M508.76 441.1V438.56M513.05 441.1V440.06M517.34 441.1V440.69M521.63 441.1V441.31M525.92 441.1V442.82M530.21 441.1V444.44M534.5 441.1V446.32M538.79 441.1V447.58M543.09 441.1V448.2M547.38 441.1V447.83M551.67 441.1V446.95M555.96 441.1V446.32M560.25 441.1V445.7M564.54 441.1V445.32M568.83 441.1V445.32M573.12 441.1V445.7M577.41 441.1V446.07M581.71 441.1V446.32M586 441.1V446.57M590.29 441.1V447.32M594.58 441.1V446.95M598.87 441.1V446.32M603.16 441.1V446.07M607.45 441.1V446.07M611.74 441.1V446.32M616.03 441.1V446.95M620.32 441.1V448.58M624.62 441.1V450.71M628.91 441.1V451.96M633.2 441.1V451.96M637.49 441.1V450.08M641.78 441.1V448.83M646.07 441.1V448.2M650.36 441.1V448.2M654.65 441.1V448.2M658.94 441.1V447.32M663.23 441.1V446.95M667.52 441.1V446.57M671.82 441.1V446.07M676.11 441.1V445.32M680.4 441.1V444.82M684.69 441.1V444.44M688.98 441.1V443.57M693.27 441.1V442.82M697.56 441.1V441.94M701.85 441.1V441.31M706.14 441.1V441.31M710.44 441.1V441.56M714.73 441.1V442.82M719.02 441.1V445.07M723.31 441.1V442.1M727.6 441.1V440.22M731.89 441.1V438.34M736.18 441.1V435.59M740.47 441.1V432.33M744.76 441.1V433.08M749.05 441.1V432.33M753.35 441.1V432.08M757.64 441.1V432.33M761.93 441.1V432.33M766.22 441.1V432.71M770.51 441.1V432.33M774.8 441.1V431.83M779.09 441.1V431.83M783.38 441.1V431.45M787.67 441.1V431.08M791.96 441.1V430.2M796.25 441.1V429.58M800.55 441.1V428.95M804.84 441.1V428.32M809.13 441.1V428.32M813.42 441.1V427.7M817.71 441.1V424.31M822 441.1V419.56M826.29 441.1V413.29M830.58 441.1V409.28M834.87 441.1V405.53M839.17 441.1V402.27M843.46 441.1V400.14M847.75 441.1V399.26M852.04 441.1V398.26M856.33 441.1V398.26M860.62 441.1V399.26M864.91 441.1V400.52M869.2 441.1V401.77M873.49 441.1V403.02M877.78 441.1V403.9M882.08 441.1V406.4M886.37 441.1V407.66M890.66 441.1V408.91M894.95 441.1V410.16M899.24 441.1V412.04M903.53 441.1V413.54M907.82 441.1V415.8M912.11 441.1V417.68M916.4 441.1V421.06M920.69 441.1V424.31M924.99 441.1V427.07M929.28 441.1V428.32M933.57 441.1V430.2M937.86 441.1V433.08M942.15 441.1V435.21M946.44 441.1V440.22M950.73 441.1V441.1M955.02 441.1V441.47M959.31 441.1V442.1M963.6 441.1V443.1M967.9 441.1V444.05M972.19 441.1V444.68M976.48 441.1V444.68M980.77 441.1V444.68M985.06 441.1V444.68" stroke="#9a9aa8" stroke-width="0.65" fill="none"/>
<path d="M2.51 446.7C5.34 446.66 6.43 446.91 11.02 446.57C15.61 446.24 12.44 445.99 16.28 445.7C20.12 445.4 17.12 445.2 22.55 445.7C27.97 446.2 25.05 446.07 32.57 447.2C40.08 448.33 37.99 448.33 45.09 449.08C52.19 449.83 47.18 449.2 53.86 449.45C60.54 449.7 58.03 449.29 65.13 449.83C72.23 450.37 67.64 450.25 75.15 451.08C82.67 451.92 81.83 451.42 87.68 452.33C93.52 453.25 88.09 453 92.69 453.84C97.28 454.67 94.77 454.51 101.45 454.84C108.13 455.17 103.87 454.88 112.73 454.84C121.58 454.8 122.24 454.71 128.01 454.71C133.77 454.71 125.17 454.51 130.02 454.84C134.87 455.17 135.03 454.59 142.55 455.72C150.06 456.84 146.3 456.76 152.57 458.22C158.83 459.68 155.49 458.93 161.33 460.1C167.18 461.27 164.26 460.89 170.1 461.73C175.95 462.56 172.61 462.02 178.87 462.61C185.13 463.19 180.96 463.19 188.89 463.48C196.82 463.77 194.73 463.69 202.67 463.48C210.6 463.27 206.84 463.23 212.69 462.86C218.53 462.48 215.19 463.06 220.2 462.35C225.21 461.64 222.71 461.81 227.72 460.73C232.73 459.64 230.22 460.14 235.23 459.1C240.24 458.05 238.49 458.51 242.75 457.6C247 456.68 244.75 457.26 248.01 456.34C251.27 455.42 246.84 455.88 252.53 454.84C258.21 453.8 256.7 454.46 265.05 453.21C273.4 451.96 269.23 452.33 277.58 451.08C285.93 449.83 281.75 450.62 290.1 449.45C298.45 448.28 294.28 448.41 302.63 447.58C310.98 446.74 306.8 447.45 315.15 446.95C323.5 446.45 319.33 447.32 327.68 446.07C336.03 444.82 332.69 445.4 340.2 443.19C347.72 440.98 343.96 442.15 350.22 439.43C356.48 436.72 353.22 437.96 358.99 435.05C364.75 432.14 362.17 433.61 367.52 430.7C372.86 427.78 370.02 428.82 375.03 426.31C380.04 423.81 376.7 425.14 382.55 423.18C388.39 421.22 386.72 421.55 392.57 420.43C398.41 419.3 394.65 420.13 400.08 419.8C405.51 419.47 403.42 419.22 408.85 419.42C414.28 419.63 410.1 419.59 416.36 420.43C422.63 421.26 419.7 420.59 427.64 421.93C435.57 423.26 431.81 422.76 440.16 424.43C448.51 426.1 443.92 424.98 452.69 426.94C461.45 428.9 458.11 428.53 466.46 430.32C474.81 432.12 470.72 431.17 477.74 432.32C484.75 433.48 481.33 432.76 487.52 433.8C493.7 434.83 490.44 434.72 496.28 435.43C502.13 436.14 497.95 435.3 505.05 435.93C512.15 436.55 510.48 436.43 517.58 437.3C524.67 438.18 520.92 437.51 526.34 438.56C531.77 439.6 528.43 438.89 533.86 440.44C539.29 441.98 537.2 441.56 542.63 443.19C548.05 444.82 545.55 444.07 550.14 445.32C554.73 446.57 552.65 446.28 556.4 446.95C560.16 447.62 553.48 447.2 561.41 447.32C569.35 447.45 569.76 447.16 580.2 447.32C590.64 447.49 583.46 447.74 592.73 447.83C601.99 447.91 598.07 447.66 608.01 447.58C617.95 447.49 615.19 447.07 622.55 447.58C629.9 448.08 625.05 448.45 630.06 449.08C635.07 449.7 631.73 449.04 637.58 449.45C643.42 449.87 640.92 450.04 647.6 450.33C654.28 450.62 651.77 450.75 657.62 450.33C663.46 449.91 659.29 450 665.13 449.08C670.98 448.16 667.64 448.7 675.15 447.58C682.67 446.45 679.33 446.87 687.68 445.7C696.03 444.53 691.85 445.11 700.2 444.07C708.55 443.02 706.05 443.15 712.73 442.57C719.41 441.98 715.15 442.4 720.24 442.31C725.33 442.23 724.33 442.26 728.01 442.31C731.68 442.37 726.43 443.17 731.27 442.48C736.12 441.78 735.45 441.81 742.55 440.22C749.64 438.63 747.56 439.39 752.57 437.72C757.58 436.05 751.73 437.17 757.58 435.21C763.42 433.25 762.59 433.08 770.1 431.83C777.62 430.58 773.02 431.66 780.12 431.45C787.22 431.25 784.3 431.62 791.39 431.2C798.49 430.79 794.32 430.74 801.41 430.2C808.51 429.66 806.42 430.41 812.69 429.58C818.95 428.74 814.77 429.78 820.2 427.7C825.63 425.61 823.12 426.86 828.97 423.31C834.81 419.76 831.55 421.43 837.74 417.05C843.92 412.67 841.75 414.13 847.52 410.16C853.28 406.2 850.02 407.95 855.03 405.15C860.04 402.35 857.54 403.36 862.55 401.77C867.56 400.18 865.05 400.85 870.06 400.39C875.07 399.93 872.98 399.93 877.58 400.39C882.17 400.85 878.83 400.48 883.84 401.77C888.85 403.06 886.34 402.52 892.61 404.27C898.87 406.03 895.11 404.65 902.63 407.03C910.14 409.41 906.8 408.07 915.15 411.41C923.5 414.75 920.16 413.29 927.68 417.05C935.19 420.81 931.43 418.72 937.7 422.69C943.96 426.65 940.62 425.19 946.46 428.95C952.31 432.71 949.8 431.25 955.23 433.96C960.66 436.67 958.49 435.29 962.75 437.09C967 438.89 965.2 438.49 968.01 439.34C970.81 440.2 968.01 438.72 971.15 439.67C974.29 440.61 972.82 440.92 977.41 442.17C982.01 443.42 982.42 443.01 984.93 443.42" stroke="#48c2be" stroke-width="1.3" fill="none" stroke-linejoin="round"/>
<path d="M2.1 1.4V467.5M996.8 1.4V467.5M2.1 1.4H996.8M2.1 467.5H996.8" stroke="#b8bacb" stroke-width="0.8" fill="none"/>
<path d="M2.1 325.0H996.8" stroke="#a2a3b8" stroke-width="1.5" fill="none"/>
<path d="M2.1 393.3H996.8" stroke="#a4a5ba" stroke-width="1.5" fill="none"/>
<path d="M2.1 392.8H996.8" stroke="#d0d1de" stroke-width="0.5" stroke-dasharray="1.6 1.6" fill="none"/>
<path d="M2.42 467.5v1.6M36.75 467.5v1.6M71.08 467.5v1.6M105.4 467.5v1.6M139.73 467.5v1.6M174.06 467.5v1.6M208.39 467.5v1.6M242.72 467.5v1.6M277.04 467.5v1.6M311.37 467.5v1.6M345.7 467.5v1.6M380.03 467.5v1.6M414.36 467.5v1.6M448.68 467.5v1.6M483.01 467.5v1.6M517.34 467.5v1.6M551.67 467.5v1.6M586 467.5v1.6M620.32 467.5v1.6M654.65 467.5v1.6M688.98 467.5v1.6M723.31 467.5v1.6M757.64 467.5v1.6M791.96 467.5v1.6M826.29 467.5v1.6M860.62 467.5v1.6M894.95 467.5v1.6M929.28 467.5v1.6M963.6 467.5v1.6" stroke="#b8bacb" stroke-width="0.8" fill="none"/>
<path d="M2.1 464.6L4.7 467.4H2.1z" fill="#e0e0ea"/>
<text x="999.3" y="6.6" font-size="5.2" fill="#d4d5e0" textLength="20.7" lengthAdjust="spacingAndGlyphs" text-anchor="start">33943.60</text>
<text x="999.3" y="24.3" font-size="5.2" fill="#d4d5e0" textLength="20.7" lengthAdjust="spacingAndGlyphs" text-anchor="start">33869.35</text>
<text x="999.3" y="42.01" font-size="5.2" fill="#d4d5e0" textLength="20.7" lengthAdjust="spacingAndGlyphs" text-anchor="start">33795.10</text>
<text x="999.3" y="59.71" font-size="5.2" fill="#d4d5e0" textLength="20.7" lengthAdjust="spacingAndGlyphs" text-anchor="start">33718.60</text>
<text x="999.3" y="77.42" font-size="5.2" fill="#d4d5e0" textLength="20.7" lengthAdjust="spacingAndGlyphs" text-anchor="start">33644.35</text>
<text x="999.3" y="95.12" font-size="5.2" fill="#d4d5e0" textLength="20.7" lengthAdjust="spacingAndGlyphs" text-anchor="start">33567.85</text>
<text x="999.3" y="112.83" font-size="5.2" fill="#d4d5e0" textLength="20.7" lengthAdjust="spacingAndGlyphs" text-anchor="start">33493.60</text>
<text x="999.3" y="130.53" font-size="5.2" fill="#d4d5e0" textLength="20.7" lengthAdjust="spacingAndGlyphs" text-anchor="start">33417.10</text>
<text x="999.3" y="148.24" font-size="5.2" fill="#d4d5e0" textLength="20.7" lengthAdjust="spacingAndGlyphs" text-anchor="start">33342.85</text>
<text x="999.3" y="165.94" font-size="5.2" fill="#d4d5e0" textLength="20.7" lengthAdjust="spacingAndGlyphs" text-anchor="start">33266.35</text>
<text x="999.3" y="183.65" font-size="5.2" fill="#d4d5e0" textLength="20.7" lengthAdjust="spacingAndGlyphs" text-anchor="start">33192.10</text>
<text x="999.3" y="201.36" font-size="5.2" fill="#d4d5e0" textLength="20.7" lengthAdjust="spacingAndGlyphs" text-anchor="start">33117.85</text>
<text x="999.3" y="219.06" font-size="5.2" fill="#d4d5e0" textLength="20.7" lengthAdjust="spacingAndGlyphs" text-anchor="start">33041.35</text>
<text x="999.3" y="236.76" font-size="5.2" fill="#d4d5e0" textLength="20.7" lengthAdjust="spacingAndGlyphs" text-anchor="start">32967.10</text>
<text x="999.3" y="254.47" font-size="5.2" fill="#d4d5e0" textLength="20.7" lengthAdjust="spacingAndGlyphs" text-anchor="start">32890.60</text>
<text x="999.3" y="272.18" font-size="5.2" fill="#d4d5e0" textLength="20.7" lengthAdjust="spacingAndGlyphs" text-anchor="start">32816.35</text>
<text x="999.3" y="289.88" font-size="5.2" fill="#d4d5e0" textLength="20.7" lengthAdjust="spacingAndGlyphs" text-anchor="start">32739.85</text>
<text x="999.3" y="307.58" font-size="5.2" fill="#d4d5e0" textLength="20.7" lengthAdjust="spacingAndGlyphs" text-anchor="start">32665.60</text>
<text x="999.3" y="325.29" font-size="5.2" fill="#d4d5e0" textLength="20.7" lengthAdjust="spacingAndGlyphs" text-anchor="start">32591.35</text>
<rect x="997.3" y="81.6" width="24.7" height="5.8" fill="#f4f4f8"/>
<text x="999.3" y="86.5" font-size="5.2" fill="#15163a" textLength="20.7" lengthAdjust="spacingAndGlyphs" text-anchor="start">33605.50</text>
<text x="998.6" y="331.9" font-size="5.2" fill="#d4d5e0" textLength="7.6" lengthAdjust="spacingAndGlyphs" text-anchor="start">100</text>
<text x="998.6" y="348.3" font-size="5.2" fill="#d4d5e0" textLength="5" lengthAdjust="spacingAndGlyphs" text-anchor="start">70</text>
<text x="998.6" y="374.9" font-size="5.2" fill="#d4d5e0" textLength="5" lengthAdjust="spacingAndGlyphs" text-anchor="start">30</text>
<text x="998.6" y="391.2" font-size="5.2" fill="#d4d5e0" textLength="2.5" lengthAdjust="spacingAndGlyphs" text-anchor="start">0</text>
<text x="998.6" y="399.6" font-size="5.2" fill="#d4d5e0" textLength="15.3" lengthAdjust="spacingAndGlyphs" text-anchor="start">217.99</text>
<text x="998.6" y="443.1" font-size="5.2" fill="#d4d5e0" textLength="9.6" lengthAdjust="spacingAndGlyphs" text-anchor="start">0.00</text>
<text x="998.6" y="465.6" font-size="5.2" fill="#d4d5e0" textLength="19.5" lengthAdjust="spacingAndGlyphs" text-anchor="start">-122.545</text>
<path d="M3.9 4.7h3.5l-1.75 2.3z" fill="#ececf2"/>
<rect x="9.9" y="2.3" width="116.4" height="6" fill="#0f1137"/>
<rect x="4" y="327.6" width="37.6" height="6" fill="#0f1137"/>
<rect x="4" y="396.2" width="72.6" height="6" fill="#0f1137"/>
<text y="7.6" font-size="5.2" fill="#d4d5e0"><tspan x="10.6" textLength="25.7" lengthAdjust="spacingAndGlyphs">DJ30ft+,H1</tspan> <tspan x="40.1" textLength="20.0" lengthAdjust="spacingAndGlyphs">33603.50</tspan> <tspan x="62.2" textLength="19.8" lengthAdjust="spacingAndGlyphs">33611.00</tspan> <tspan x="84.2" textLength="19.8" lengthAdjust="spacingAndGlyphs">33578.50</tspan> <tspan x="105.9" textLength="20.0" lengthAdjust="spacingAndGlyphs">33605.50</tspan></text>
<text x="4.3" y="332.1" font-size="5.2" fill="#d4d5e0" textLength="36.8" lengthAdjust="spacingAndGlyphs" text-anchor="start">RSI(14) 41.2497</text>
<text x="4.4" y="400.9" font-size="5.2" fill="#d4d5e0" textLength="71.6" lengthAdjust="spacingAndGlyphs" text-anchor="start">MACD(12,26,9) -21.504 -13.848</text>
<text x="2.02" y="474.4" font-size="5.2" fill="#d4d5e0" textLength="29" lengthAdjust="spacingAndGlyphs" text-anchor="start">23 May 2023</text>
<text x="36.35" y="474.4" font-size="5.2" fill="#d4d5e0" textLength="30.8" lengthAdjust="spacingAndGlyphs" text-anchor="start">23 May 14:00</text>
<text x="70.68" y="474.4" font-size="5.2" fill="#d4d5e0" textLength="30.8" lengthAdjust="spacingAndGlyphs" text-anchor="start">23 May 22:00</text>
<text x="105" y="474.4" font-size="5.2" fill="#d4d5e0" textLength="30.8" lengthAdjust="spacingAndGlyphs" text-anchor="start">24 May 07:00</text>
<text x="139.33" y="474.4" font-size="5.2" fill="#d4d5e0" textLength="30.8" lengthAdjust="spacingAndGlyphs" text-anchor="start">24 May 15:00</text>
<text x="173.66" y="474.4" font-size="5.2" fill="#d4d5e0" textLength="30.8" lengthAdjust="spacingAndGlyphs" text-anchor="start">24 May 23:00</text>
<text x="207.99" y="474.4" font-size="5.2" fill="#d4d5e0" textLength="30.8" lengthAdjust="spacingAndGlyphs" text-anchor="start">25 May 08:00</text>
<text x="242.32" y="474.4" font-size="5.2" fill="#d4d5e0" textLength="30.8" lengthAdjust="spacingAndGlyphs" text-anchor="start">25 May 16:00</text>
<text x="276.64" y="474.4" font-size="5.2" fill="#d4d5e0" textLength="30.8" lengthAdjust="spacingAndGlyphs" text-anchor="start">26 May 01:00</text>
<text x="310.97" y="474.4" font-size="5.2" fill="#d4d5e0" textLength="30.8" lengthAdjust="spacingAndGlyphs" text-anchor="start">26 May 09:00</text>
<text x="345.3" y="474.4" font-size="5.2" fill="#d4d5e0" textLength="30.8" lengthAdjust="spacingAndGlyphs" text-anchor="start">26 May 17:00</text>
<text x="379.63" y="474.4" font-size="5.2" fill="#d4d5e0" textLength="30.8" lengthAdjust="spacingAndGlyphs" text-anchor="start">29 May 02:00</text>
<text x="413.96" y="474.4" font-size="5.2" fill="#d4d5e0" textLength="30.8" lengthAdjust="spacingAndGlyphs" text-anchor="start">29 May 10:00</text>
<text x="448.28" y="474.4" font-size="5.2" fill="#d4d5e0" textLength="30.8" lengthAdjust="spacingAndGlyphs" text-anchor="start">29 May 18:00</text>
<text x="482.61" y="474.4" font-size="5.2" fill="#d4d5e0" textLength="30.8" lengthAdjust="spacingAndGlyphs" text-anchor="start">30 May 07:00</text>
<text x="516.94" y="474.4" font-size="5.2" fill="#d4d5e0" textLength="30.8" lengthAdjust="spacingAndGlyphs" text-anchor="start">30 May 15:00</text>
<text x="551.27" y="474.4" font-size="5.2" fill="#d4d5e0" textLength="30.8" lengthAdjust="spacingAndGlyphs" text-anchor="start">30 May 23:00</text>
<text x="585.6" y="474.4" font-size="5.2" fill="#d4d5e0" textLength="30.8" lengthAdjust="spacingAndGlyphs" text-anchor="start">31 May 08:00</text>
<text x="619.92" y="474.4" font-size="5.2" fill="#d4d5e0" textLength="30.8" lengthAdjust="spacingAndGlyphs" text-anchor="start">31 May 16:00</text>
<text x="654.25" y="474.4" font-size="5.2" fill="#d4d5e0" textLength="25.5" lengthAdjust="spacingAndGlyphs" text-anchor="start">1 Jun 01:00</text>
<text x="688.58" y="474.4" font-size="5.2" fill="#d4d5e0" textLength="25.5" lengthAdjust="spacingAndGlyphs" text-anchor="start">1 Jun 09:00</text>
<text x="722.91" y="474.4" font-size="5.2" fill="#d4d5e0" textLength="25.5" lengthAdjust="spacingAndGlyphs" text-anchor="start">1 Jun 17:00</text>
<text x="757.24" y="474.4" font-size="5.2" fill="#d4d5e0" textLength="25.5" lengthAdjust="spacingAndGlyphs" text-anchor="start">2 Jun 02:00</text>
<text x="791.56" y="474.4" font-size="5.2" fill="#d4d5e0" textLength="25.5" lengthAdjust="spacingAndGlyphs" text-anchor="start">2 Jun 10:00</text>
<text x="825.89" y="474.4" font-size="5.2" fill="#d4d5e0" textLength="25.5" lengthAdjust="spacingAndGlyphs" text-anchor="start">2 Jun 18:00</text>
<text x="860.22" y="474.4" font-size="5.2" fill="#d4d5e0" textLength="25.5" lengthAdjust="spacingAndGlyphs" text-anchor="start">5 Jun 03:00</text>
<text x="894.55" y="474.4" font-size="5.2" fill="#d4d5e0" textLength="25.5" lengthAdjust="spacingAndGlyphs" text-anchor="start">5 Jun 11:00</text>
<text x="928.88" y="474.4" font-size="5.2" fill="#d4d5e0" textLength="25.5" lengthAdjust="spacingAndGlyphs" text-anchor="start">5 Jun 19:00</text>
<text x="963.2" y="474.4" font-size="5.2" fill="#d4d5e0" textLength="25.5" lengthAdjust="spacingAndGlyphs" text-anchor="start">6 Jun 04:00</text>
</svg>
</body></html>
